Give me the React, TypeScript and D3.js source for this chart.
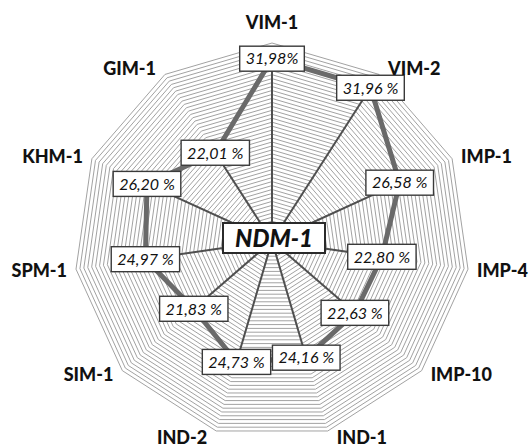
import React, { useEffect, useRef } from "react";
import * as d3 from "d3";

const axes = ["VIM-1", "VIM-2", "IMP-1", "IMP-4", "IMP-10", "IND-1", "IND-2", "SIM-1", "SPM-1", "KHM-1", "GIM-1"];
const values = [31.98, 31.96, 26.58, 22.8, 22.63, 24.16, 24.73, 21.83, 24.97, 26.2, 22.01];
const valueLabels = ["31,98%", "31,96 %", "26,58 %", "22,80 %", "22,63 %", "24,16 %", "24,73 %", "21,83 %", "24,97 %", "26,20 %", "22,01 %"];
const centerLabel = "NDM-1";
const scaleDomain = [8.5, 34];
const ringCount = 50;

export default function App() {
  const ref = useRef<SVGSVGElement | null>(null);

  useEffect(() => {
    const svg = d3.select(ref.current);
    svg.selectAll("*").remove();
    const cx = 272, cy = 241, R = 198;
    const n = axes.length;
    const ang = d3.scaleLinear().domain([0, n]).range([0, 2 * Math.PI]);
    const r = d3.scaleLinear().domain(scaleDomain).range([0, R]);
    const g = svg.append("g").attr("transform", `translate(${cx},${cy})`);

    const ringLine = (rad: number) =>
      d3.lineRadial<number>().angle((_, i) => ang(i)).radius(() => rad).curve(d3.curveLinearClosed)(d3.range(n));

    g.append("path").attr("d", ringLine(R)).attr("fill", "#fff");
    const rings = d3.range(1, ringCount + 1).map((k) => (R * k) / ringCount);
    g.selectAll("path.ring")
      .data(rings)
      .join("path")
      .attr("class", "ring")
      .attr("d", (d) => ringLine(d))
      .attr("fill", "none")
      .attr("stroke", "#a2a2a2")
      .attr("stroke-width", 1);

    const pts = values.map((v, i) => {
      const a = ang(i);
      return [r(v) * Math.sin(a), -r(v) * Math.cos(a)];
    });

    g.selectAll("line.spoke")
      .data(pts)
      .join("line")
      .attr("x1", 0)
      .attr("y1", 0)
      .attr("x2", (d) => d[0])
      .attr("y2", (d) => d[1])
      .attr("stroke", "#4f4f4f")
      .attr("stroke-width", 2);

    const poly = d3.lineRadial<number>().angle((_, i) => ang(i)).radius((d) => r(d)).curve(d3.curveLinearClosed);
    g.append("path")
      .attr("d", poly(values))
      .attr("fill", "none")
      .attr("stroke", "#6a6a6a")
      .attr("stroke-width", 5)
      .attr("stroke-linejoin", "round");

    const vg = g.selectAll("g.val").data(values).join("g").attr("class", "val")
      .attr("transform", (_, i) => `translate(${pts[i][0]},${pts[i][1]})`);
    vg.each(function (_, i) {
      const node = d3.select(this);
      const rect = node.append("rect");
      const t = node.append("text")
        .text(valueLabels[i])
        .attr("text-anchor", "middle")
        .attr("dy", "0.36em")
        .attr("font-family", "Lato, 'Open Sans', sans-serif")
        .attr("font-style", "italic")
        .attr("font-size", 16)
        .attr("fill", "#111");
      const w = (t.node() as SVGTextElement).getComputedTextLength() + 12;
      rect.attr("x", -w / 2).attr("y", -12.5).attr("width", w).attr("height", 25)
        .attr("fill", "#fff").attr("stroke", "#3a3a3a").attr("stroke-width", 1.4);
    });

    const cgp = g.append("g").attr("transform", "translate(2,-3)");
    cgp.append("rect").attr("x", -51).attr("y", -15).attr("width", 102).attr("height", 30)
      .attr("fill", "#fff").attr("stroke", "#2a2a2a").attr("stroke-width", 2);
    cgp.append("text").text(centerLabel).attr("text-anchor", "middle").attr("dy", "0.36em")
      .attr("font-family", "Lato, sans-serif").attr("font-weight", 900).attr("font-style", "italic")
      .attr("font-size", 24).attr("fill", "#111");

    // axis labels anchored next to each outer vertex
    g.selectAll("text.axis")
      .data(axes)
      .join("text")
      .attr("class", "axis")
      .text((d) => d)
      .attr("text-anchor", (_, i) => {
        const s = Math.sin(ang(i));
        return Math.abs(s) < 0.05 ? "middle" : s > 0 ? "start" : "end";
      })
      .attr("dy", "0.36em")
      .attr("x", (_, i) => {
        const a = ang(i);
        const s = Math.sin(a);
        return R * s + (Math.abs(s) < 0.05 ? 0 : Math.sign(s) * 9);
      })
      .attr("y", (_, i) => {
        const a = ang(i);
        const s = Math.sin(a);
        return -R * Math.cos(a) + (Math.abs(s) < 0.05 ? -20 : -Math.cos(a) * 6.5);
      })
      .attr("font-family", "Lato, sans-serif")
      .attr("font-weight", 900)
      .attr("font-size", 18)
      .attr("fill", "#111");
  }, []);

  return (
    <svg
      ref={ref}
      width={530}
      height={448}
      style={{ position: "absolute", left: 0, top: 0, background: "#fff" }}
    />
  );
}
